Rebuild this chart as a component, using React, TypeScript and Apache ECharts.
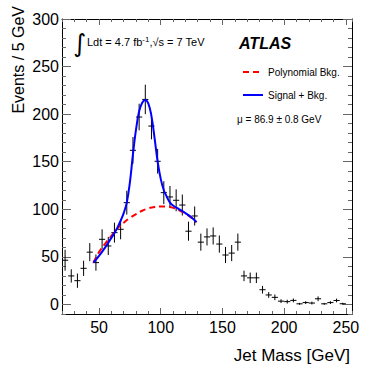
import React, { useEffect, useRef } from "react";
import * as echarts from "echarts";

const FONT = "'Liberation Sans', Arial, Helvetica, sans-serif";

// bin centres (GeV) of the data histogram, 5 GeV bins
const massBins = [
  22.5, 27.5, 32.5, 37.5, 42.5, 47.5, 52.5, 57.5, 62.5, 67.5,
  72.5, 77.5, 82.5, 87.5, 92.5, 97.5, 102.5, 107.5, 112.5, 117.5,
  122.5, 127.5, 132.5, 137.5, 142.5, 147.5, 152.5, 157.5, 162.5, 167.5,
  172.5, 177.5, 182.5, 187.5, 192.5, 197.5, 202.5, 207.5, 212.5, 217.5,
  222.5, 227.5, 232.5, 237.5, 242.5, 247.5,
];
// events per bin
const events = [
  46.5, 30, 25, 38, 55, 44, 68.5, 61.5, 75.5, 79,
  107, 162, 197, 215.5, 187.5, 150.5, 117.5, 113, 109.5, 104.5,
  77, 93, 65.5, 71, 72, 63.5, 52, 54, 65.5, 30,
  28, 28, 15.5, 10, 7.5, 3.5, 3, 4.3, 0.7, 2,
  1.5, 6, 0.7, 2, 4.2, 0.8,
];
// statistical error per bin
const errors = [
  11, 7, 7.5, 8, 9.5, 8.5, 10.5, 9.5, 10.5, 10.5,
  12.5, 14, 14, 15.5, 14, 13, 12, 11.5, 11.5, 11,
  10, 10, 9, 9, 9, 9, 8.5, 8.5, 9, 5.5,
  5.5, 5.5, 4, 3, 3, 2, 2, 2, 1, 1.5,
  1.5, 2.5, 1, 1.5, 2, 1,
];
const binHalfWidth = 2.5;

// polynomial background fit
const bkgMass = [45.5, 50, 55, 60, 65, 70, 75, 80, 85, 90, 95, 100, 105, 110, 115, 120, 125, 129];
const bkgValues = [44, 55, 64, 72, 80, 86, 91, 95, 98.5, 101, 102.5, 103, 103, 101.5, 99, 95.5, 91, 86.5];

// signal + background fit
const sbMass = [45.5, 50, 55, 60, 62.5, 65, 67.5, 70, 72.5, 75, 77.5, 80, 82.5, 85, 87.5, 90, 92.5, 95, 97.5, 100, 102.5, 105, 107.5, 110, 115, 120, 125, 129];
const sbValues = [44, 51, 60, 70, 75, 81, 88, 96, 107, 128, 158, 184, 203, 212, 215, 211, 198, 175, 150, 132, 120, 113, 107, 104, 100, 96, 91.5, 86.5];

const xMin = 20;
const xMax = 255;
const yMin = -10;
const yMax = 300;
const xMajorTicks = [50, 100, 150, 200, 250];
const yMajorTicks = [0, 50, 100, 150, 200, 250, 300];
const minorStep = 10;

export default function App() {
  const ref = useRef<HTMLDivElement>(null);
  useEffect(() => {
    if (!ref.current) return;
    const chart = echarts.init(ref.current, undefined, { renderer: "svg" });

    const axisLine = { show: true, onZero: false, lineStyle: { color: "#000", width: 1 } };
    const tickColor = "#666";
    const labelStyle = { fontFamily: FONT, fontSize: 16, color: "#000" };

    const xMinorAxis = (position: string) => ({
      type: "value", position, min: xMin, max: xMax, interval: minorStep,
      axisLine, splitLine: { show: false },
      axisTick: { show: true, inside: true, length: 3, lineStyle: { color: tickColor } },
      axisLabel: { show: false },
    });
    const xMajorAxis = (position: string, showLabel: boolean) => ({
      type: "value", position, min: xMin, max: xMax,
      axisLine: { show: false, onZero: false }, splitLine: { show: false },
      axisTick: { show: true, inside: true, length: 6, customValues: xMajorTicks, lineStyle: { color: tickColor } },
      axisLabel: showLabel ? { show: true, customValues: xMajorTicks, margin: 5, ...labelStyle } : { show: false },
    });
    const yMinorAxis = (position: string) => ({
      type: "value", position, min: yMin, max: yMax, interval: minorStep,
      axisLine, splitLine: { show: false },
      axisTick: { show: true, inside: true, length: 4, lineStyle: { color: tickColor } },
      axisLabel: { show: false },
    });
    const yMajorAxis = (position: string, showLabel: boolean) => ({
      type: "value", position, min: yMin, max: yMax,
      axisLine: { show: false, onZero: false }, splitLine: { show: false },
      axisTick: { show: true, inside: true, length: 9, customValues: yMajorTicks, lineStyle: { color: tickColor } },
      axisLabel: showLabel ? { show: true, customValues: yMajorTicks, margin: 3, ...labelStyle } : { show: false },
    });

    const points = massBins.map((m, i) => [m, events[i], errors[i]]);

    chart.setOption({
      animation: false,
      backgroundColor: "#fff",
      grid: { left: 62, right: 38, top: 19, bottom: 61, outerBoundsMode: "none", containLabel: false },
      xAxis: [xMinorAxis("bottom"), xMajorAxis("bottom", true), xMinorAxis("top"), xMajorAxis("top", false)],
      yAxis: [yMinorAxis("left"), yMajorAxis("left", true), yMinorAxis("right"), yMajorAxis("right", false)],
      legend: {
        left: 237, top: 62, orient: "vertical", itemWidth: 20, itemHeight: 10, itemGap: 13,
        data: ["Polynomial Bkg.", "Signal + Bkg."],
        textStyle: { fontFamily: FONT, fontSize: 10, color: "#000" },
        itemStyle: { opacity: 0, color: "rgba(0,0,0,0)", borderWidth: 0 },
        selectedMode: false,
      },
      series: [
        {
          type: "custom", name: "Data", xAxisIndex: 0, yAxisIndex: 0, clip: true, z: 2,
          data: points,
          renderItem: (params: any, api: any) => {
            const x = api.value(0), y = api.value(1), e = api.value(2);
            const l = api.coord([x - binHalfWidth, y]);
            const r = api.coord([x + binHalfWidth, y]);
            const t = api.coord([x, y + e]);
            const b = api.coord([x, y - e]);
            return {
              type: "group",
              children: [
                { type: "line", shape: { x1: l[0], y1: l[1], x2: r[0], y2: r[1] }, style: { stroke: "#000", lineWidth: 1 } },
                { type: "line", shape: { x1: t[0], y1: t[1], x2: b[0], y2: b[1] }, style: { stroke: "#000", lineWidth: 1 } },
              ],
            };
          },
        },
        {
          type: "line", name: "Polynomial Bkg.", xAxisIndex: 0, yAxisIndex: 0, z: 3,
          data: bkgMass.map((m, i) => [m, bkgValues[i]]),
          smooth: 0.4, symbol: "none",
          lineStyle: { color: "#ff0000", width: 2, type: [6, 4] },
          itemStyle: { color: "#ff0000" },
        },
        {
          type: "line", name: "Signal + Bkg.", xAxisIndex: 0, yAxisIndex: 0, z: 4,
          data: sbMass.map((m, i) => [m, sbValues[i]]),
          smooth: 0.4, symbol: "none",
          lineStyle: { color: "#0000ff", width: 2 },
          itemStyle: { color: "#0000ff" },
        },
      ],
      graphic: [
        {
          type: "text", x: 18, y: 6, rotation: Math.PI / 2,
          style: { text: "Events / 5 GeV", font: `16px ${FONT}`, fill: "#000", textAlign: "right", textVerticalAlign: "middle" },
        },
        {
          type: "text", x: 350, y: 355,
          style: { text: "Jet Mass [GeV]", font: `17px ${FONT}`, fill: "#000", textAlign: "right", textVerticalAlign: "middle" },
        },
        {
          type: "text", x: 73, y: 43,
          style: { text: "∫", font: `italic 25px 'DejaVu Sans', sans-serif`, fill: "#000", textAlign: "left", textVerticalAlign: "middle" },
        },
        {
          type: "text", x: 87, y: 42,
          style: {
            text: "{a|Ldt = 4.7 fb}{s|-1}{a|,√s = 7 TeV}",
            textAlign: "left", textVerticalAlign: "middle",
            rich: {
              a: { fontFamily: FONT, fontSize: 11, fill: "#000", color: "#000" },
              s: { fontFamily: FONT, fontSize: 8, fill: "#000", color: "#000", verticalAlign: "top", padding: [0, 0, 6, 0] },
            },
          },
        },
        {
          type: "text", x: 239, y: 43,
          style: { text: "ATLAS", font: `italic bold 16px ${FONT}`, fill: "#000", textAlign: "left", textVerticalAlign: "middle" },
        },
        {
          type: "text", x: 237, y: 119,
          style: { text: "μ = 86.9 ± 0.8 GeV", font: `10px ${FONT}`, fill: "#000", textAlign: "left", textVerticalAlign: "middle" },
        },
      ],
    });
    return () => chart.dispose();
  }, []);
  return <div ref={ref} style={{ width: 390, height: 375, position: "absolute", left: 0, top: 0 }} />;
}
